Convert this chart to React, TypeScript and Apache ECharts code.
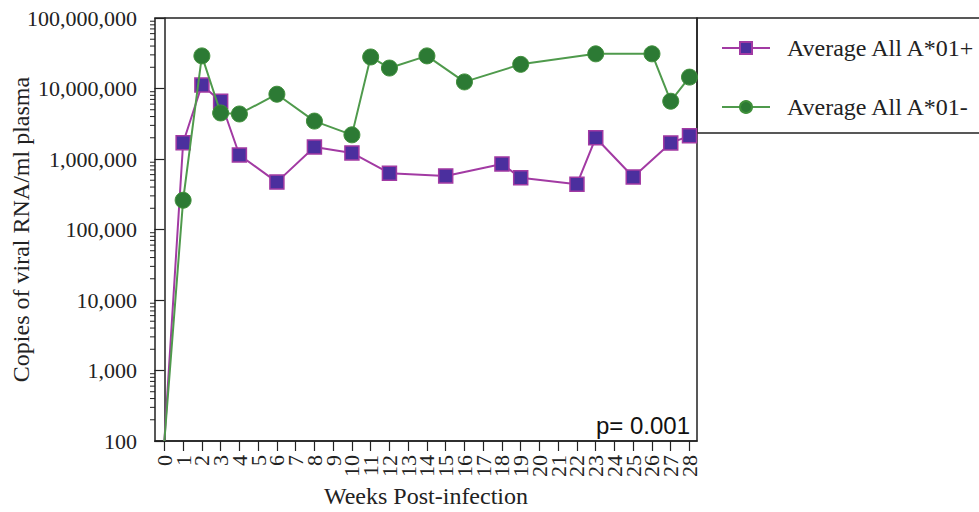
import React, { useEffect, useRef } from "react";
import * as echarts from "echarts";

// Tick positions on the x axis (weeks)
const weekTicks = [0, 1, 2, 3, 4, 5, 6, 7, 8, 9, 10, 11, 12, 13, 14, 15, 16, 17, 18, 19, 20, 21, 22, 23, 24, 25, 26, 27, 28];

// Series: Average All A*01+
const plusWeeks = [0, 1, 2, 3, 4, 6, 8, 10, 12, 15, 18, 19, 22, 23, 25, 27, 28];
const plusValues = [100, 1700000, 11200000, 6600000, 1140000, 470000, 1480000, 1220000, 630000, 575000, 850000, 540000, 440000, 2000000, 555000, 1690000, 2130000];

// Series: Average All A*01-
const minusWeeks = [0, 1, 2, 3, 4, 6, 8, 10, 11, 12, 14, 16, 19, 23, 26, 27, 28];
const minusValues = [100, 260000, 29000000, 4500000, 4350000, 8300000, 3450000, 2200000, 28000000, 19500000, 29000000, 12400000, 22000000, 31000000, 31000000, 6600000, 14500000];

// Log-axis decades for minor ticks
const decades = [100, 1000, 10000, 100000, 1000000, 10000000];
const minorMultipliers = [2, 3, 4, 5, 6, 7, 8, 9];

const seriesNames = ["Average All A*01+", "Average All A*01-"];
const pLabel = "p= 0.001";

const X_MIN = -0.5;
const X_MAX = 28.4;
const Y_MIN = 100;

export default function App() {
  const ref = useRef<HTMLDivElement>(null);
  useEffect(() => {
    if (!ref.current) return;
    const chart = echarts.init(ref.current, null, { renderer: "svg" });
    const serif = "Liberation Serif";
    const ink = "#222";

    const toData = (ws: number[], vs: number[]) =>
      ws.map((w, i) => (w === 0 ? { value: [w, vs[i]], symbol: "none" } : { value: [w, vs[i]] }));

    const minorData: number[][] = [];
    decades.forEach((d) => minorMultipliers.forEach((m) => minorData.push([X_MIN, d * m])));
    const xLabelData = weekTicks.map((w) => [w, Y_MIN]);

    chart.setOption({
      animation: false,
      backgroundColor: "#fff",
      grid: {
        left: 155,
        right: 282,
        top: 18,
        bottom: 71,
        containLabel: false,
        outerBoundsMode: "none",
        show: true,
        borderColor: ink,
        borderWidth: 1.5,
      },
      legend: {
        data: seriesNames,
        orient: "vertical",
        left: 716,
        top: 31,
        itemWidth: 48,
        itemHeight: 15,
        itemGap: 35,
        textStyle: { fontFamily: serif, fontSize: 24, color: ink, padding: [0, 0, 0, 12] },
      },
      xAxis: {
        type: "value",
        min: X_MIN,
        max: X_MAX,
        splitLine: { show: false },
        axisLine: { onZero: false, lineStyle: { color: ink, width: 1.5 } },
        axisTick: { customValues: weekTicks, length: 10, lineStyle: { color: ink, width: 1.2 } },
        axisLabel: { show: false },
        name: "Weeks Post-infection",
        nameLocation: "middle",
        nameGap: 43,
        nameMoveOverlap: false,
        nameTextStyle: { fontFamily: serif, fontSize: 24, color: ink },
      },
      yAxis: {
        type: "log",
        logBase: 10,
        min: Y_MIN,
        max: 100000000,
        splitLine: { show: false },
        axisLine: { show: true, lineStyle: { color: ink, width: 1.5 } },
        axisTick: { show: true, length: 10, lineStyle: { color: ink, width: 1.2 } },
        axisLabel: {
          fontFamily: serif,
          fontSize: 22,
          color: ink,
          margin: 18,
          formatter: (v: number) => Math.round(v).toLocaleString("en-US"),
        },
        name: "Copies of viral RNA/ml plasma",
        nameLocation: "middle",
        nameRotate: 90,
        nameGap: 122,
        nameMoveOverlap: false,
        nameTextStyle: { fontFamily: serif, fontSize: 24, color: ink },
      },
      graphic: [
        {
          type: "rect",
          shape: { x: 697, y: 18, width: 300, height: 115 },
          style: { fill: "none", stroke: ink, lineWidth: 1.5 },
          silent: true,
        },
        {
          type: "text",
          style: {
            text: pLabel,
            x: 690,
            y: 437,
            align: "right",
            verticalAlign: "bottom",
            fontFamily: "Liberation Sans",
            fontSize: 24,
            fill: "#111",
          },
          silent: true,
        },
      ],
      series: [
        {
          name: seriesNames[0],
          type: "line",
          data: toData(plusWeeks, plusValues),
          symbol: "rect",
          symbolSize: 14,
          lineStyle: { color: "#a23aa3", width: 2 },
          itemStyle: { color: "#4b2f9e", borderColor: "#a23aa3", borderWidth: 1.5 },
          z: 3,
        },
        {
          name: seriesNames[1],
          type: "line",
          data: toData(minusWeeks, minusValues),
          symbol: "circle",
          symbolSize: 16,
          lineStyle: { color: "#4f9a4c", width: 2 },
          itemStyle: { color: "#2c7a34", borderColor: "#3f8f3a", borderWidth: 1 },
          z: 4,
        },
        {
          name: "minorTicks",
          type: "custom",
          silent: true,
          clip: false,
          data: minorData,
          renderItem: (params: any, api: any) => {
            const p = api.coord([api.value(0), api.value(1)]);
            return {
              type: "line",
              shape: { x1: p[0] - 5, y1: p[1], x2: p[0], y2: p[1] },
              style: { stroke: ink, lineWidth: 1 },
            };
          },
          z: 1,
        },
        {
          name: "weekLabels",
          type: "custom",
          silent: true,
          clip: false,
          data: xLabelData,
          renderItem: (params: any, api: any) => {
            const p = api.coord([api.value(0), api.value(1)]);
            return {
              type: "text",
              x: p[0],
              y: p[1] + 14,
              rotation: Math.PI / 2,
              style: {
                text: String(api.value(0)),
                align: "right",
                verticalAlign: "middle",
                fontFamily: serif,
                fontSize: 22,
                fill: ink,
              },
            };
          },
          z: 1,
        },
      ],
    });
    return () => chart.dispose();
  }, []);
  return <div ref={ref} style={{ position: "absolute", left: 0, top: 0, width: 979, height: 512 }} />;
}
